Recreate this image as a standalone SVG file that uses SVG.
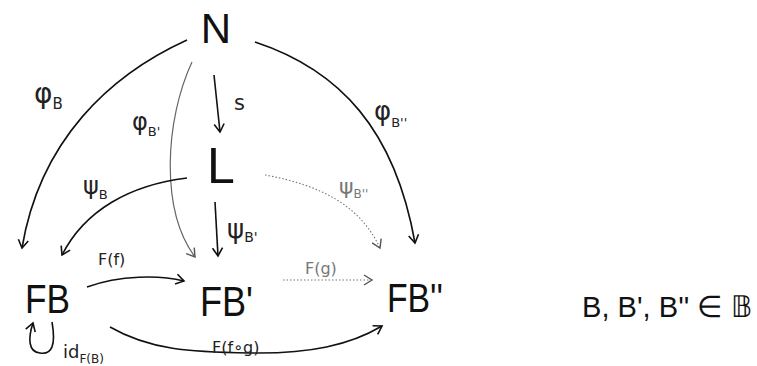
<svg xmlns="http://www.w3.org/2000/svg" width="757" height="366" viewBox="0 0 757 366">
<defs>
<marker id="ah" viewBox="-10 -6 12 12" refX="0" refY="0" markerWidth="12" markerHeight="12" markerUnits="userSpaceOnUse" orient="auto">
<path d="M-8,-5 L0,0 L-8,5" fill="none" stroke="#111" stroke-width="1.6"/>
</marker>
<marker id="ahg" viewBox="-10 -6 12 12" refX="0" refY="0" markerWidth="12" markerHeight="12" markerUnits="userSpaceOnUse" orient="auto">
<path d="M-8,-5 L0,0 L-8,5" fill="none" stroke="#555" stroke-width="1.4"/>
</marker>
<style>
.e{fill:none;stroke:#111;stroke-width:1.6;marker-end:url(#ah)}
.g{fill:none;stroke:#666;stroke-width:1.2;marker-end:url(#ahg)}
.d{fill:none;stroke:#777;stroke-width:1.1;stroke-dasharray:1.5 2;marker-end:url(#ahg)}
.n{font-family:"Liberation Sans",sans-serif;fill:#111}
.l{font-family:"DejaVu Sans","Liberation Sans",sans-serif;fill:#222}
.lg{font-family:"DejaVu Sans","Liberation Sans",sans-serif;fill:#777}
</style>
</defs>
<g id="connectors">
<path class="e" d="M187,40 C110,75 40,140 22,248"/>
<path class="g" d="M192,62 C165,120 160,210 195,257"/>
<path class="e" d="M214,75 L220,132"/>
<path class="e" d="M255,42 C340,70 395,130 415,243"/>
<path class="e" d="M187,178 C130,185 85,210 62,255"/>
<path class="e" d="M215,202 L218,256"/>
<path class="d" d="M265,175 C320,185 360,205 380,248"/>
<path class="e" d="M87,287 C120,275 160,275 184,281"/>
<path class="d" d="M283,280 L372,280"/>
<path class="e" d="M110,327 C150,350 190,352 250,353 C310,354 350,345 382,326"/>
<path class="e" d="M52,322 C56,345 52,355 40,353 C28,352 28,338 33,323"/>
</g>
<g id="labels">
<text class="l" x="34" y="103" font-size="28">φ<tspan font-size="15" dy="6">B</tspan></text>
<text class="l" x="132" y="130" font-size="24">φ<tspan font-size="13" dy="6">B'</tspan></text>
<text class="l" x="234" y="110" font-size="21">s</text>
<text class="l" x="374" y="120" font-size="26">φ<tspan font-size="13" dy="7">B''</tspan></text>
<text class="l" x="83" y="194" font-size="24">ψ<tspan font-size="13" dy="5">B</tspan></text>
<text class="l" x="227" y="238" font-size="26">ψ<tspan font-size="14" dy="4">B'</tspan></text>
<text class="lg" x="339" y="194" font-size="22">ψ<tspan font-size="12" dy="4">B''</tspan></text>
<text class="l" x="98" y="265" font-size="16">F(f)</text>
<text class="lg" x="305" y="274" font-size="16">F(g)</text>
<text class="l" x="212" y="353" font-size="16">F(f∘g)</text>
<text class="l" x="63" y="358" font-size="18">id<tspan font-size="12" dy="5">F(B)</tspan></text>
</g>
<g id="N"><text class="n" x="216" y="43" font-size="42" text-anchor="middle">N</text></g>
<g id="L"><text class="n" x="221" y="183" font-size="50" text-anchor="middle">L</text></g>
<g id="FB"><text class="n" x="25" y="313" font-size="40" textLength="45" lengthAdjust="spacingAndGlyphs">FB</text></g>
<g id="FBp"><text class="n" x="200" y="316" font-size="42" textLength="53" lengthAdjust="spacingAndGlyphs">FB'</text></g>
<g id="FBpp"><text class="n" x="387" y="312" font-size="40" textLength="56" lengthAdjust="spacingAndGlyphs">FB''</text></g>
<g id="note">
<text class="n" x="582" y="317" font-size="30" textLength="170" lengthAdjust="spacingAndGlyphs">B, B', B'' ∈ 𝔹</text>
</g>
</svg>
